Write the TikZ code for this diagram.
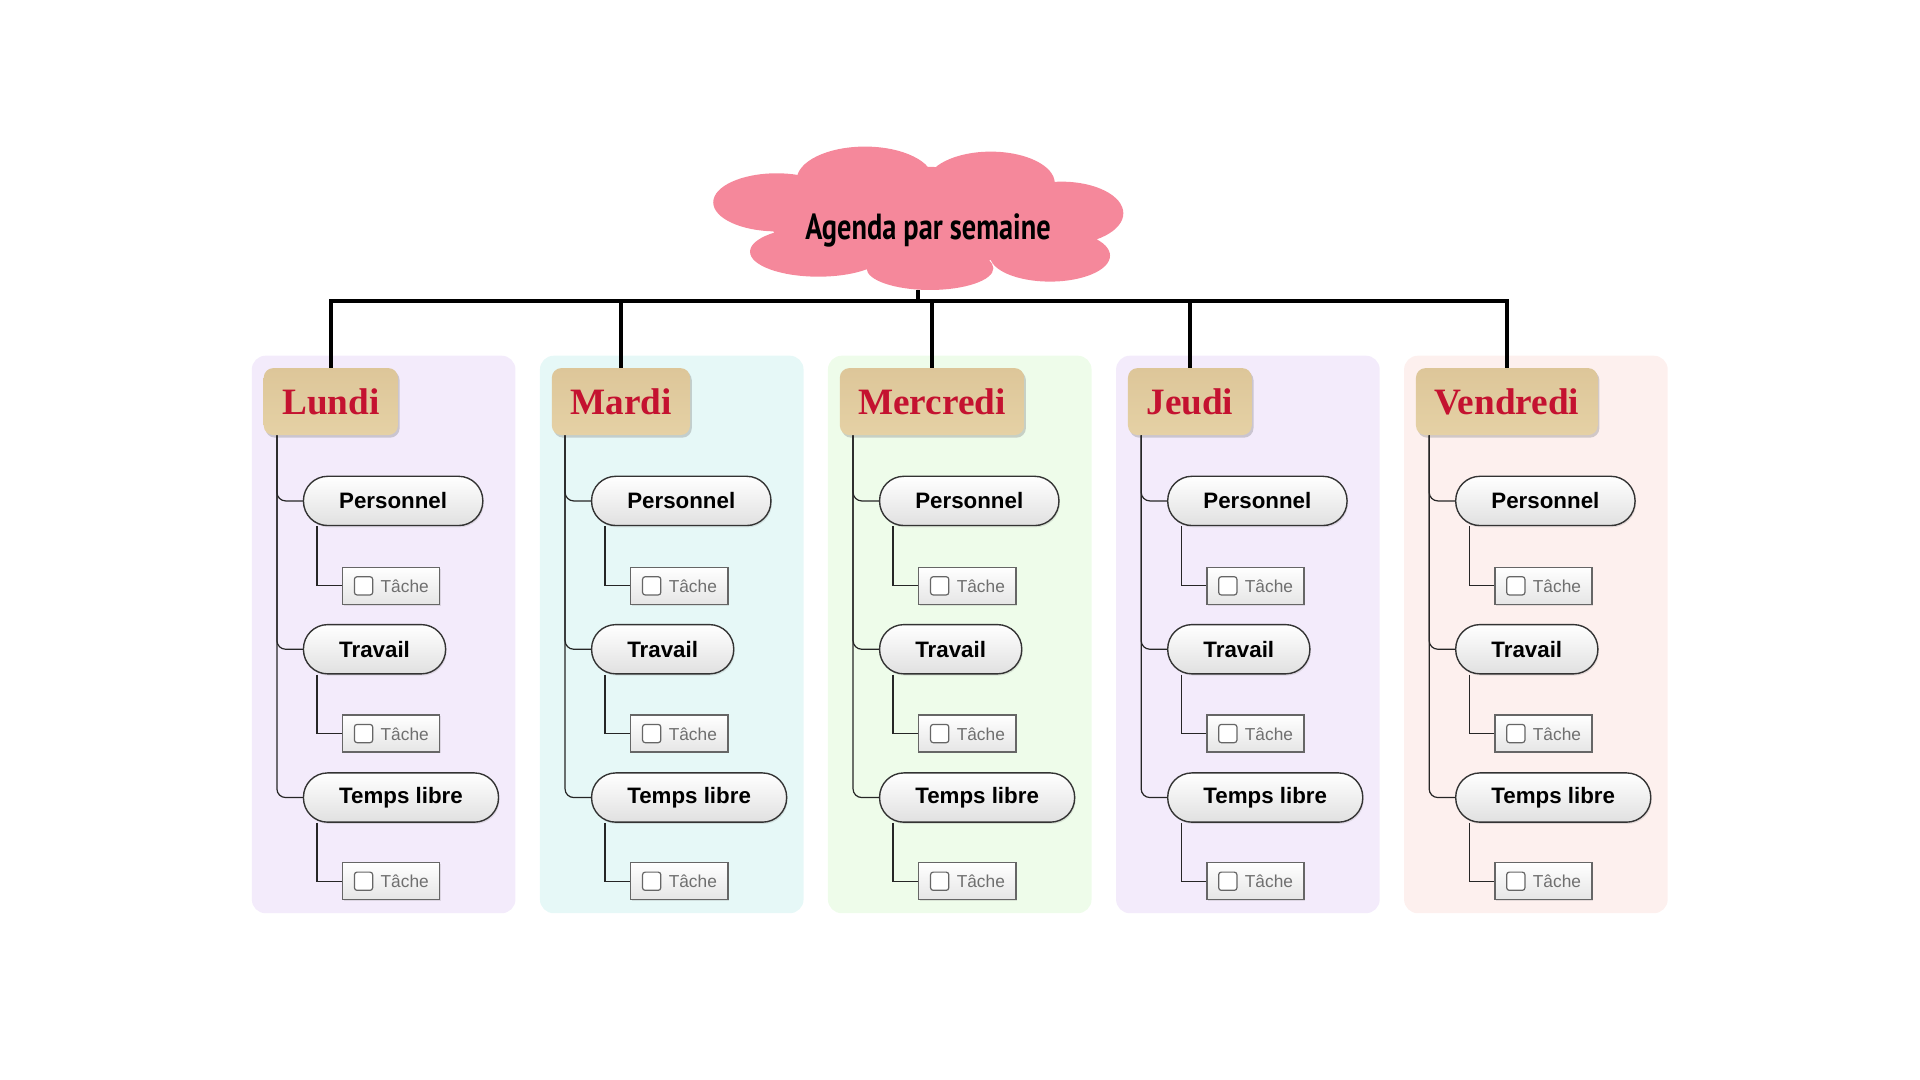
\documentclass[tikz,border=0pt]{standalone}
\usepackage{tikz}
\usepackage{fontspec}
\usetikzlibrary{shapes.geometric,shadows,calc}
\setmainfont{Liberation Sans}
\newfontfamily\titrefont[FakeStretch=0.78]{PT Sans}
\newfontfamily\jourfont{Liberation Serif}
\definecolor{rose}{HTML}{F5889B}
\definecolor{beige}{HTML}{E5D1A5}
\definecolor{beigeSombre}{HTML}{DDC699}
\definecolor{rouge}{HTML}{C41230}
\definecolor{gristexte}{HTML}{6F6F6F}
\definecolor{fondLundi}{HTML}{F3EBFB}
\definecolor{fondMardi}{HTML}{E6F8F7}
\definecolor{fondMercredi}{HTML}{EEFCEA}
\definecolor{fondJeudi}{HTML}{F3EBFB}
\definecolor{fondVendredi}{HTML}{FDF0EE}
\newcommand{\caseacocher}{\tikz[baseline=0.05cm]\draw[draw=gray!80!black, line width=0.7pt, rounded corners=1.5pt, fill=white] (0,0) rectangle (0.37cm,0.37cm);}
\tikzset{
	nuage/.style={ellipse, minimum width=8.33cm, minimum height=2.9cm, inner sep=0pt, font=\titrefont\bfseries\fontsize{21}{24}\selectfont},
	jour/.style={rectangle, rounded corners=5.5pt, top color=beigeSombre, bottom color=beige, text=rouge, anchor=west, minimum height=1.36cm, inner xsep=0.375cm, font=\jourfont\bfseries\fontsize{21.5}{24}\selectfont, drop shadow={shadow xshift=1pt, shadow yshift=-1.5pt, opacity=0.35}},
	categorie/.style={rectangle, rounded corners=14pt, draw=black!80, line width=0.8pt, top color=white, bottom color=black!12, anchor=west, minimum height=1cm, inner xsep=0.725cm, font=\bfseries\fontsize{12.9}{15}\selectfont, drop shadow={shadow xshift=0.6pt, shadow yshift=-1pt, opacity=0.2}},
	tache/.style={rectangle, draw=black!60, line width=0.7pt, top color=white, bottom color=black!10, anchor=west, minimum height=0.75cm, inner xsep=0.225cm, text=gristexte, font=\fontsize{10}{12}\selectfont, drop shadow={shadow xshift=0.6pt, shadow yshift=-0.8pt, opacity=0.2}},
	fil/.style={draw=black!85, line width=0.7pt},
	bus/.style={draw=black, line width=2pt}
}

\begin{document}
\begin{tikzpicture}[x=0.025cm, y=-0.025cm]
	\useasboundingbox (0,0) rectangle (1560,877.5);
	% Colonnes:
	\fill[fondLundi, rounded corners=8pt] (204.6,289) rectangle (418.8,742);
	\fill[fondMardi, rounded corners=8pt] (438.7,289) rectangle (652.9,742);
	\fill[fondMercredi, rounded corners=8pt] (672.7,289) rectangle (886.9,742);
	\fill[fondJeudi, rounded corners=8pt] (906.8,289) rectangle (1121,742);
	\fill[fondVendredi, rounded corners=8pt] (1140.8,289) rectangle (1355,742);
	% Nuage:
	\fill[rose]
		(744.8,176) ellipse [x radius=121.9, y radius=40.6]
		(631,164.4) ellipse [x radius=51.5, y radius=23.6]
		(702.8,146.2) ellipse [x radius=55.5, y radius=27.1]
		(805,148.9) ellipse [x radius=52, y radius=25.7]
		(862.6,173.3) ellipse [x radius=50.1, y radius=25.7]
		(853.1,207.7) ellipse [x radius=48.8, y radius=21.1]
		(755.6,218) ellipse [x radius=51.5, y radius=17.6]
		(664.9,204.5) ellipse [x radius=55.5, y radius=20.3];
	% Noeuds:
	\node[nuage] (agenda) at (746,177.5){\raisebox{-0.25cm}[\height][\depth]{\hspace*{0.4cm}Agenda par semaine}};
	\coordinate (bus) at (0,244.6);
	\node[jour] (lun) at (214, 326.3){Lundi};
	\node[jour] (mar) at (448.1, 326.3){Mardi};
	\node[jour] (mer) at (682.1, 326.3){Mercredi};
	\node[jour] (jeu) at (916.2, 326.3){Jeudi};
	\node[jour] (ven) at (1150.2, 326.3){Vendredi};
	% Lundi
	\node[categorie] (lunPer) at (246, 407){Personnel};
	\node[categorie] (lunTra) at (246, 527.5){Travail};
	\node[categorie] (lunLib) at (246, 648){Temps libre};
	\node[tache] (lunPerT) at (278, 476){\caseacocher\hspace{0.15cm}Tâche};
	\node[tache] (lunTraT) at (278, 596){\caseacocher\hspace{0.15cm}Tâche};
	\node[tache] (lunLibT) at (278, 716){\caseacocher\hspace{0.15cm}Tâche};
	% Mardi
	\node[categorie] (marPer) at (480.1, 407){Personnel};
	\node[categorie] (marTra) at (480.1, 527.5){Travail};
	\node[categorie] (marLib) at (480.1, 648){Temps libre};
	\node[tache] (marPerT) at (512.1, 476){\caseacocher\hspace{0.15cm}Tâche};
	\node[tache] (marTraT) at (512.1, 596){\caseacocher\hspace{0.15cm}Tâche};
	\node[tache] (marLibT) at (512.1, 716){\caseacocher\hspace{0.15cm}Tâche};
	% Mercredi
	\node[categorie] (merPer) at (714.1, 407){Personnel};
	\node[categorie] (merTra) at (714.1, 527.5){Travail};
	\node[categorie] (merLib) at (714.1, 648){Temps libre};
	\node[tache] (merPerT) at (746.1, 476){\caseacocher\hspace{0.15cm}Tâche};
	\node[tache] (merTraT) at (746.1, 596){\caseacocher\hspace{0.15cm}Tâche};
	\node[tache] (merLibT) at (746.1, 716){\caseacocher\hspace{0.15cm}Tâche};
	% Jeudi
	\node[categorie] (jeuPer) at (948.2, 407){Personnel};
	\node[categorie] (jeuTra) at (948.2, 527.5){Travail};
	\node[categorie] (jeuLib) at (948.2, 648){Temps libre};
	\node[tache] (jeuPerT) at (980.2, 476){\caseacocher\hspace{0.15cm}Tâche};
	\node[tache] (jeuTraT) at (980.2, 596){\caseacocher\hspace{0.15cm}Tâche};
	\node[tache] (jeuLibT) at (980.2, 716){\caseacocher\hspace{0.15cm}Tâche};
	% Vendredi
	\node[categorie] (venPer) at (1182.2, 407){Personnel};
	\node[categorie] (venTra) at (1182.2, 527.5){Travail};
	\node[categorie] (venLib) at (1182.2, 648){Temps libre};
	\node[tache] (venPerT) at (1214.2, 476){\caseacocher\hspace{0.15cm}Tâche};
	\node[tache] (venTraT) at (1214.2, 596){\caseacocher\hspace{0.15cm}Tâche};
	\node[tache] (venLibT) at (1214.2, 716){\caseacocher\hspace{0.15cm}Tâche};
	% Bus:
	\draw[bus] (agenda.south) -- (agenda.south |- bus);
	\draw[bus] (lun.north) -- (lun.north |- bus) -- (ven.north |- bus) -- (ven.north);
	\draw[bus] (mar.north) -- (mar.north |- bus);
	\draw[bus] (mer.north) -- (mer.north |- bus);
	\draw[bus] (jeu.north) -- (jeu.north |- bus);
	% Fils:
	\draw[fil, rounded corners=5] ($(lun.south west)+(11,0)$) |- (lunPer.west);
	\draw[fil, rounded corners=5] ($(lun.south west)+(11,0)$) |- (lunTra.west);
	\draw[fil, rounded corners=5] ($(lun.south west)+(11,0)$) |- (lunLib.west);
	\draw[fil] ($(lunPer.south west)+(11.5,0)$) |- (lunPerT.west);
	\draw[fil] ($(lunTra.south west)+(11.5,0)$) |- (lunTraT.west);
	\draw[fil] ($(lunLib.south west)+(11.5,0)$) |- (lunLibT.west);
	\draw[fil, rounded corners=5] ($(mar.south west)+(11,0)$) |- (marPer.west);
	\draw[fil, rounded corners=5] ($(mar.south west)+(11,0)$) |- (marTra.west);
	\draw[fil, rounded corners=5] ($(mar.south west)+(11,0)$) |- (marLib.west);
	\draw[fil] ($(marPer.south west)+(11.5,0)$) |- (marPerT.west);
	\draw[fil] ($(marTra.south west)+(11.5,0)$) |- (marTraT.west);
	\draw[fil] ($(marLib.south west)+(11.5,0)$) |- (marLibT.west);
	\draw[fil, rounded corners=5] ($(mer.south west)+(11,0)$) |- (merPer.west);
	\draw[fil, rounded corners=5] ($(mer.south west)+(11,0)$) |- (merTra.west);
	\draw[fil, rounded corners=5] ($(mer.south west)+(11,0)$) |- (merLib.west);
	\draw[fil] ($(merPer.south west)+(11.5,0)$) |- (merPerT.west);
	\draw[fil] ($(merTra.south west)+(11.5,0)$) |- (merTraT.west);
	\draw[fil] ($(merLib.south west)+(11.5,0)$) |- (merLibT.west);
	\draw[fil, rounded corners=5] ($(jeu.south west)+(11,0)$) |- (jeuPer.west);
	\draw[fil, rounded corners=5] ($(jeu.south west)+(11,0)$) |- (jeuTra.west);
	\draw[fil, rounded corners=5] ($(jeu.south west)+(11,0)$) |- (jeuLib.west);
	\draw[fil] ($(jeuPer.south west)+(11.5,0)$) |- (jeuPerT.west);
	\draw[fil] ($(jeuTra.south west)+(11.5,0)$) |- (jeuTraT.west);
	\draw[fil] ($(jeuLib.south west)+(11.5,0)$) |- (jeuLibT.west);
	\draw[fil, rounded corners=5] ($(ven.south west)+(11,0)$) |- (venPer.west);
	\draw[fil, rounded corners=5] ($(ven.south west)+(11,0)$) |- (venTra.west);
	\draw[fil, rounded corners=5] ($(ven.south west)+(11,0)$) |- (venLib.west);
	\draw[fil] ($(venPer.south west)+(11.5,0)$) |- (venPerT.west);
	\draw[fil] ($(venTra.south west)+(11.5,0)$) |- (venTraT.west);
	\draw[fil] ($(venLib.south west)+(11.5,0)$) |- (venLibT.west);
\end{tikzpicture}
\end{document}
